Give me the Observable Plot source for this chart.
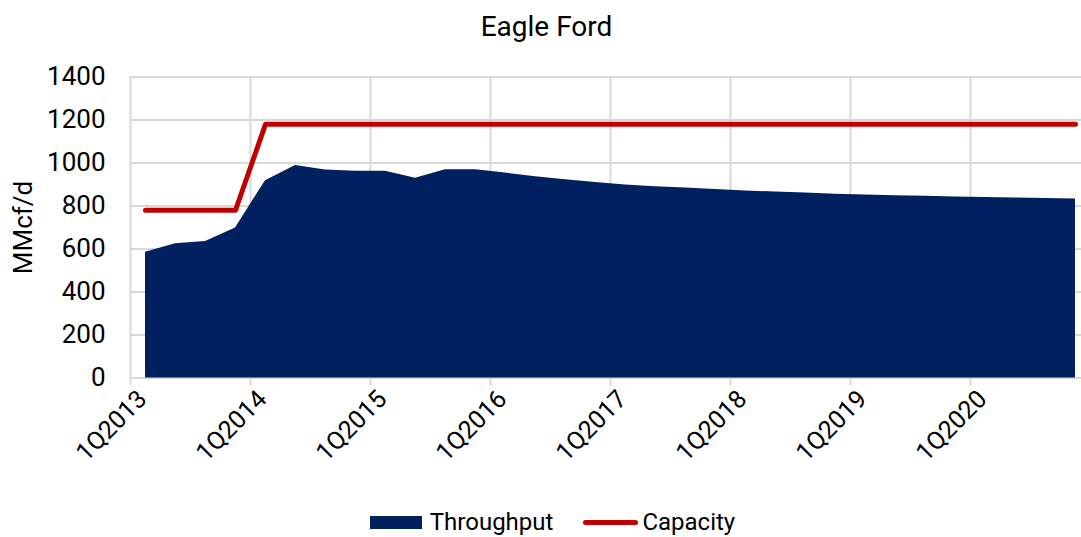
<!DOCTYPE html>
<html>
<head>
<meta charset="utf-8">
<script src="https://cdn.jsdelivr.net/npm/d3@7"></script>
<script src="https://cdn.jsdelivr.net/npm/@observablehq/plot@0.6"></script>
<style>
  html, body { margin: 0; padding: 0; background: #fff; }
  body { width: 1081px; height: 537px; overflow: hidden; font-family: Roboto, "Liberation Sans", sans-serif; color: #000; }
  #title { height: 52px; line-height: 54px; text-align: center; font-size: 28px; padding-left: 12px; }
  #legend { height: 50px; display: flex; align-items: center; justify-content: center; padding-left: 24px; font-size: 24px; }
  .sw-area { width: 52px; height: 13px; background: #002060; margin-right: 8px; }
  .sw-line { width: 55px; height: 5px; border-radius: 3px; background: #C00000; margin-left: 30px; margin-right: 4px; }
</style>
</head>
<body>
<div id="title">Eagle Ford</div>
<div id="chart"></div>
<div id="legend">
  <div class="sw-area"></div><span>Throughput</span>
  <div class="sw-line"></div><span>Capacity</span>
</div>
<script>
const quarters = [
  "1Q2013","2Q2013","3Q2013","4Q2013",
  "1Q2014","2Q2014","3Q2014","4Q2014",
  "1Q2015","2Q2015","3Q2015","4Q2015",
  "1Q2016","2Q2016","3Q2016","4Q2016",
  "1Q2017","2Q2017","3Q2017","4Q2017",
  "1Q2018","2Q2018","3Q2018","4Q2018",
  "1Q2019","2Q2019","3Q2019","4Q2019",
  "1Q2020","2Q2020","3Q2020","4Q2020"
];
const throughput = [
  585, 624, 635, 698,
  918, 988, 968, 962,
  962, 929, 969, 969,
  953, 936, 922, 909,
  898, 890, 884, 877,
  870, 865, 860, 855,
  851, 848, 845, 842,
  839, 837, 835, 833
];
const capacity = [
  780, 780, 780, 780,
  1180, 1180, 1180, 1180,
  1180, 1180, 1180, 1180,
  1180, 1180, 1180, 1180,
  1180, 1180, 1180, 1180,
  1180, 1180, 1180, 1180,
  1180, 1180, 1180, 1180,
  1180, 1180, 1180, 1180
];
const yTicks = [0, 200, 400, 600, 800, 1000, 1200, 1400];
const labelTicks = ["1Q2013","1Q2014","1Q2015","1Q2016","1Q2017","1Q2018","1Q2019","1Q2020"];

const data = quarters.map((q, i) => ({i, q, throughput: throughput[i], capacity: capacity[i]}));
const labelIdx = labelTicks.map(l => quarters.indexOf(l));
const boundaries = labelIdx.map(i => i - 0.5);

const grid = "#d9d9d9";
const chart = Plot.plot({
  width: 1081,
  height: 445,
  marginLeft: 130,
  marginRight: 0,
  marginTop: 24.5,
  marginBottom: 119.5,
  style: {fontFamily: "Roboto, 'Liberation Sans', sans-serif", color: "#000", background: "#fff"},
  x: {type: "linear", domain: [-0.5, 31.2]},
  y: {domain: [0, 1400]},
  marks: [
    Plot.ruleY(yTicks, {stroke: grid, strokeWidth: 2}),
    Plot.ruleX(boundaries, {y1: 0, y2: 1400, stroke: grid, strokeWidth: 2}),
    Plot.axisX({ticks: boundaries, tickSize: 8, tickFormat: () => "", stroke: grid, strokeWidth: 2, strokeOpacity: 1, label: null}),
    Plot.areaY(data, {x: "i", y: "throughput", fill: "#002060"}),
    Plot.lineY(data, {x: "i", y: "capacity", stroke: "#C00000", strokeWidth: 5, strokeLinecap: "round", strokeLinejoin: "round"}),
    Plot.axisY({ticks: yTicks, tickFormat: d => String(d), tickSize: 0, tickPadding: 25, fontSize: 26, label: null}),
    Plot.axisX({ticks: labelIdx, tickFormat: i => quarters[i], tickSize: 0, tickPadding: 17, tickRotate: -45, fontSize: 25, dx: -3, label: null}),
    Plot.text(["MMcf/d"], {frameAnchor: "left", textAnchor: "middle", dx: -107, dy: 0, rotate: -90, fontSize: 26, fill: "#000"})
  ]
});
document.getElementById("chart").appendChild(chart);
</script>
</body>
</html>
